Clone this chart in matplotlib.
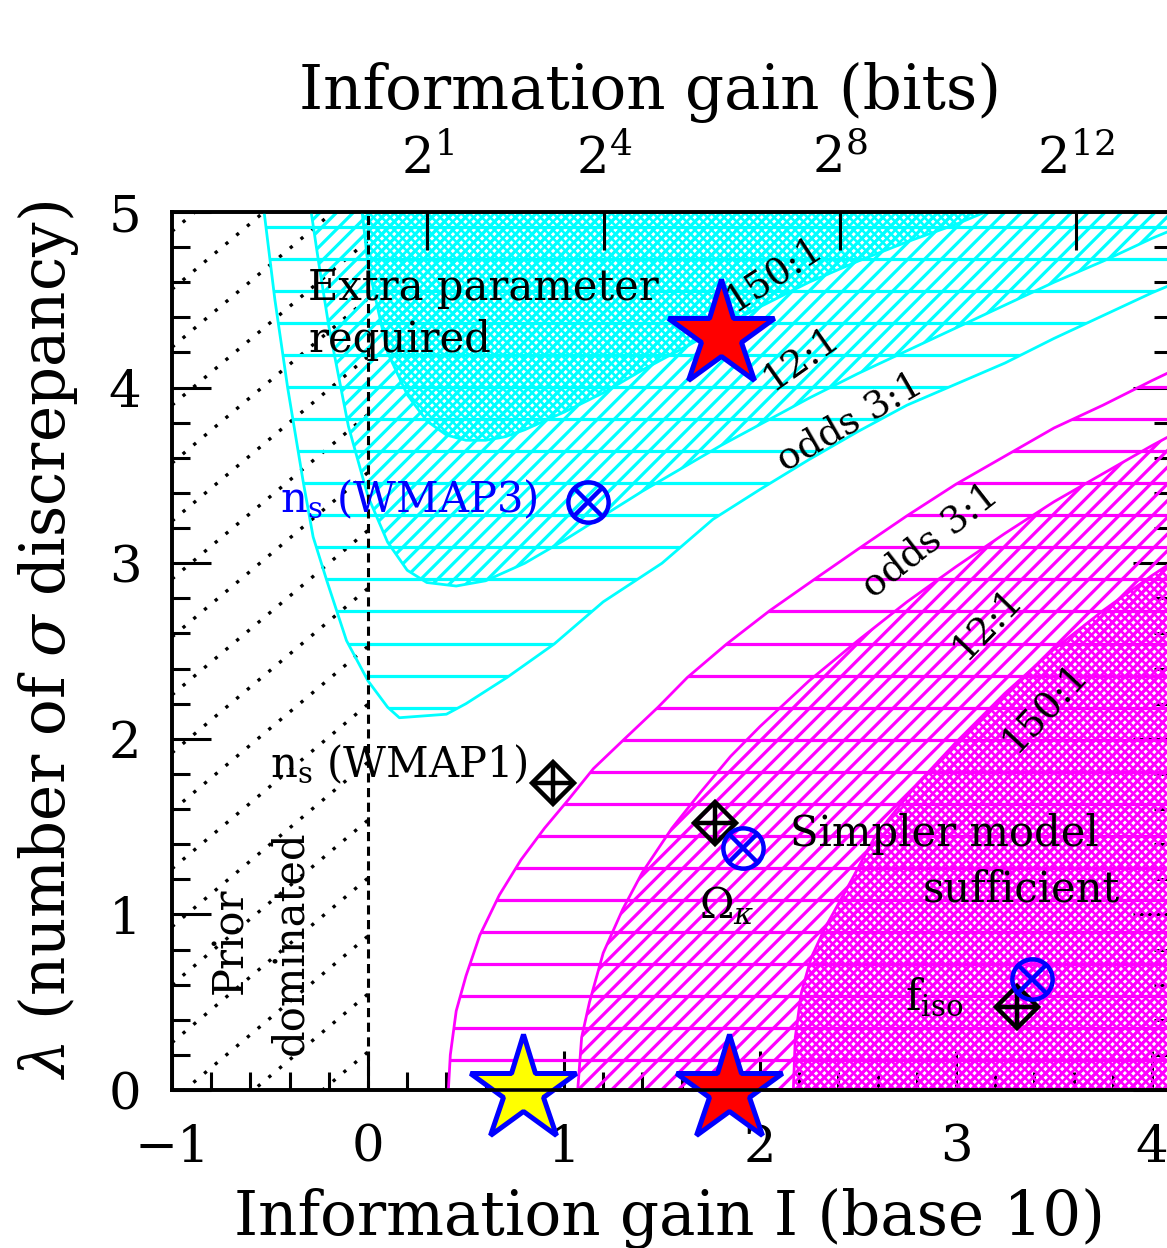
import matplotlib
matplotlib.use("Agg")
import matplotlib.pyplot as plt
import numpy as np
from matplotlib.patches import Polygon
from matplotlib.collections import LineCollection

plt.rcParams["font.family"] = "DejaVu Serif"
plt.rcParams["mathtext.fontset"] = "dejavuserif"

CYAN = "#00ffff"
MAGENTA = "#ff00ff"

# --- odds contours in the (I, lambda) plane ---
# extra parameter favoured (upper left)
cyan3_I = [-0.53, -0.475, -0.41, -0.33, -0.28, -0.21, -0.11, 0.0, 0.1, 0.16, 0.4, 0.5,
           0.71, 0.95, 1.2, 1.5, 1.76, 2.0, 2.25, 2.5, 2.75, 3.0, 3.25, 3.5, 3.75, 4.0, 4.15]
cyan3_lam = [5.0, 4.5, 4.0, 3.46, 3.15, 2.9, 2.56, 2.33, 2.18, 2.12, 2.14, 2.2,
             2.35, 2.54, 2.78, 3.0, 3.25, 3.42, 3.59, 3.75, 3.9, 4.02, 4.14, 4.28, 4.41, 4.54, 4.61]
cyan12_I = [-0.29, -0.25, -0.2, -0.1, 0.0, 0.1, 0.2, 0.3, 0.45, 0.6, 0.8, 1.0, 1.2,
            1.4, 1.6, 1.8, 2.0, 2.25, 2.5, 2.75, 3.0, 3.25, 3.5, 3.75, 4.0, 4.15]
cyan12_lam = [5.0, 4.7, 4.35, 3.78, 3.38, 3.12, 2.96, 2.89, 2.87, 2.9, 3.0, 3.13, 3.27,
              3.41, 3.54, 3.67, 3.79, 3.94, 4.08, 4.21, 4.34, 4.47, 4.6, 4.72, 4.85, 4.92]
cyan150_I = [-0.03, 0.0, 0.1, 0.2, 0.3, 0.4, 0.5, 0.6, 0.7, 0.8, 0.9, 1.0, 1.2, 1.4,
             1.6, 1.8, 2.0, 2.25, 2.5, 2.75, 3.0, 3.15]
cyan150_lam = [5.0, 4.7, 4.2, 3.96, 3.81, 3.73, 3.70, 3.70, 3.72, 3.76, 3.81, 3.86, 3.97, 4.1,
               4.22, 4.34, 4.46, 4.6, 4.72, 4.83, 4.93, 5.0]

# simpler model favoured (lower right)
mag3_I = [0.41, 0.42, 0.45, 0.5, 0.57, 0.67, 0.78, 0.9, 1.02, 1.15, 1.3, 1.48, 1.63, 1.83,
          2.05, 2.28, 2.5, 2.75, 3.0, 3.25, 3.5, 3.75, 4.0, 4.15]
mag3_lam = [0.0, 0.2, 0.45, 0.65, 0.88, 1.11, 1.31, 1.49, 1.65, 1.83, 1.99, 2.18, 2.35, 2.54,
            2.73, 2.91, 3.08, 3.27, 3.45, 3.61, 3.77, 3.9, 4.04, 4.12]
mag12_I = [1.07, 1.09, 1.13, 1.2, 1.3, 1.4, 1.55, 1.7, 1.85, 2.0, 2.25, 2.5, 2.75, 3.0,
           3.25, 3.5, 3.75, 4.0, 4.15]
mag12_lam = [0.0, 0.3, 0.5, 0.78, 1.03, 1.24, 1.49, 1.7, 1.9, 2.07, 2.33, 2.56, 2.78, 2.98,
             3.17, 3.35, 3.51, 3.67, 3.76]
mag150_I = [2.17, 2.18, 2.21, 2.26, 2.33, 2.44, 2.59, 2.8, 3.0, 3.25, 3.5, 3.75, 4.0, 4.15]
mag150_lam = [0.0, 0.3, 0.55, 0.75, 0.92, 1.14, 1.45, 1.74, 1.98, 2.26, 2.51, 2.73, 2.93, 3.04]

# --- parameters: WMAP1 (black) and WMAP3 (blue) ---
wmap1_I = [0.945, 1.77, 3.31]
wmap1_lam = [1.75, 1.52, 0.47]
wmap3_I = [1.12, 1.915, 3.39]
wmap3_lam = [3.35, 1.38, 0.63]

red_star_I = [1.80, 1.84]
red_star_lam = [4.30, 0.0]
yellow_star_I = [0.79]
yellow_star_lam = [0.0]

bit_powers = [1, 4, 8, 12]

fig = plt.figure(figsize=(11.67, 12.48), dpi=100)
ax = fig.add_axes([172 / 1167, 158 / 1248, 1000 / 1167, 878 / 1248])
ax.set_xlim(-1, 4.102)
ax.set_ylim(0, 5)

XR = 4.3  # right closing edge, beyond the frame
TOP = 5.1
BOT = -0.1
K45 = 196.0 / 175.6  # data slope of a 45 degree line on screen
rows = np.arange(0.17, 5.0, 0.1825)


def hatch_lines(kind, spacing):
    """Segments for a hatch family covering the whole plot box."""
    if kind == "-":
        return [[(-1.2, y), (XR, y)] for y in rows]
    segs = []
    for c in np.arange(-6.0, 10.0, spacing):
        if kind == "/":
            segs.append([(c - 0.3 / K45, -0.3), (c + 5.4 / K45, 5.4)])
        else:
            segs.append([(c - 5.4 / K45, 5.4), (c + 0.3 / K45, -0.3)])
    return segs


def add_region(I, lam, close, color, kind, z):
    pts = list(zip(I, lam)) + close
    clip = Polygon(pts, closed=True, facecolor="none", edgecolor="none", transform=ax.transData)
    ax.add_patch(clip)
    if kind == "lines":
        fams = [("-", 0, 2.3)]
    elif kind == "diag":
        fams = [("/", 0.0852, 2.3)]
    else:
        fams = [("/", 0.0426, 1.9), ("\\", 0.0426, 1.9)]
    for k, sp, lw in fams:
        lc = LineCollection(hatch_lines(k, sp), colors=color, linewidths=lw, zorder=z)
        ax.add_collection(lc)
        lc.set_clip_path(clip)
    ax.plot(I, lam, color=color, lw=2.0, zorder=2.6)


add_region(cyan3_I, cyan3_lam, [(XR, cyan3_lam[-1]), (XR, TOP), (cyan3_I[0], TOP)], CYAN, "lines", 2.5)
add_region(cyan12_I, cyan12_lam, [(XR, cyan12_lam[-1]), (XR, TOP), (cyan12_I[0], TOP)], CYAN, "diag", 2.0)
add_region(cyan150_I, cyan150_lam, [(cyan150_I[-1], TOP), (cyan150_I[0], TOP)], CYAN, "dense", 2.2)
add_region(mag3_I, mag3_lam, [(XR, mag3_lam[-1]), (XR, BOT), (mag3_I[0], BOT)], MAGENTA, "lines", 2.5)
add_region(mag12_I, mag12_lam, [(XR, mag12_lam[-1]), (XR, BOT), (mag12_I[0], BOT)], MAGENTA, "diag", 2.0)
add_region(mag150_I, mag150_lam, [(XR, mag150_lam[-1]), (XR, BOT), (mag150_I[0], BOT)], MAGENTA, "dense", 2.2)

# prior dominated zone: dotted diagonals for I < 0
prior_box = Polygon([(-1, 0), (0, 0), (0, 5), (-1, 5)], closed=True, facecolor="none",
                    edgecolor="none", transform=ax.transData)
ax.add_patch(prior_box)
slope = 0.937
for c in np.arange(-6.0, 5.2, 0.33):
    ln, = ax.plot([-1, 0], [c, c + slope], color="k", lw=2.4, ls=(0, (1, 3.2)), zorder=1.5)
    ln.set_clip_path(prior_box)
ax.axvline(0, color="k", lw=2.2, ls=(0, (3, 1.8)), zorder=3)

# parameter markers
ax.plot(wmap1_I, wmap1_lam, ls="none", marker="D", ms=21, mfc="none", mec="k", mew=3.2, zorder=5)
ax.plot(wmap1_I, wmap1_lam, ls="none", marker="+", ms=29, mec="k", mew=3.2, zorder=5)
ax.plot(wmap3_I, wmap3_lam, ls="none", marker="o", ms=29, mfc="none", mec="blue", mew=3.2, zorder=5.5)
ax.plot(wmap3_I, wmap3_lam, ls="none", marker="x", ms=20, mec="blue", mew=3.2, zorder=5.5)

ax.plot(red_star_I, red_star_lam, ls="none", marker="*", ms=80, mfc="red", mec="blue",
        mew=3.6, zorder=7, clip_on=False)
ax.plot(yellow_star_I, yellow_star_lam, ls="none", marker="*", ms=80, mfc="yellow", mec="blue",
        mew=3.6, zorder=7, clip_on=False)

# annotations
tfs = 30
ax.text(-0.306, 4.567, "Extra parameter", fontsize=tfs, ha="left", va="center", zorder=6)
ax.text(-0.306, 4.27, "required", fontsize=tfs, ha="left", va="center", zorder=6)
ax.text(-0.449, 3.36, r"n$_\mathrm{s}$ (WMAP3)", fontsize=tfs, color="blue", ha="left", va="center", zorder=6)
ax.text(-0.50, 1.85, r"n$_\mathrm{s}$ (WMAP1)", fontsize=tfs, ha="left", va="center", zorder=6)
ax.text(2.153, 1.46, "Simpler model", fontsize=tfs, ha="left", va="center", zorder=6)
ax.text(3.837, 1.14, "sufficient", fontsize=tfs, ha="right", va="center", zorder=6)
ax.text(1.69, 1.05, r"$\Omega_\kappa$", fontsize=tfs, ha="left", va="center", zorder=6)
ax.text(2.74, 0.53, r"f$_\mathrm{iso}$", fontsize=tfs, ha="left", va="center", zorder=6)
ax.text(-0.704, 0.85, "Prior", fontsize=tfs, rotation=90, ha="center", va="center", zorder=6)
ax.text(-0.398, 0.84, "dominated", fontsize=tfs, rotation=90, ha="center", va="center", zorder=6)

ofs = 27
for x, y, s, r in [(2.07, 4.65, "150:1", 33), (2.21, 4.17, "12:1", 35), (2.46, 3.80, "odds 3:1", 30),
                   (2.87, 3.13, "odds 3:1", 38), (3.16, 2.66, "12:1", 46), (3.45, 2.18, "150:1", 47)]:
    ax.text(x, y, s, fontsize=ofs, rotation=r, rotation_mode="anchor", ha="center", va="center", zorder=6)

# axes, ticks
for sp in ax.spines.values():
    sp.set_linewidth(2.6)
ax.set_xticks([-1, 0, 1, 2, 3, 4])
ax.set_xticklabels(["\u22121", "0", "1", "2", "3", "4"])
ax.set_yticks([0, 1, 2, 3, 4, 5])
ax.set_xticks(np.arange(-1, 4.11, 0.2), minor=True)
ax.set_yticks(np.arange(0, 5.01, 0.2), minor=True)
ax.tick_params(which="both", direction="in", width=2.2, top=False, right=True, labelsize=37)
ax.tick_params(which="major", length=28)
ax.tick_params(which="minor", length=13)
ax.tick_params(axis="y", pad=22)
ax.tick_params(axis="x", pad=24)

ax_top = ax.twiny()
ax_top.set_xlim(ax.get_xlim())
ax_top.set_xticks([np.log10(2.0 ** p) for p in bit_powers])
ax_top.set_xticklabels([f"$2^{{{p}}}$" for p in bit_powers])
ax_top.tick_params(direction="in", length=27, width=2.2, labelsize=37, pad=20)
for sp in ax_top.spines.values():
    sp.set_linewidth(2.6)

fig.text(650 / 1167, 1 - 92 / 1248, "Information gain (bits)", fontsize=44, ha="center", va="center")
fig.text(670 / 1167, 1 - 1218 / 1248, "Information gain I (base 10)", fontsize=44, ha="center", va="center")
fig.text(48 / 1167, 1 - 640 / 1248, r"$\lambda$ (number of $\sigma$ discrepancy)", fontsize=44,
         rotation=90, ha="center", va="center")

fig.savefig("out.png", dpi=100)
